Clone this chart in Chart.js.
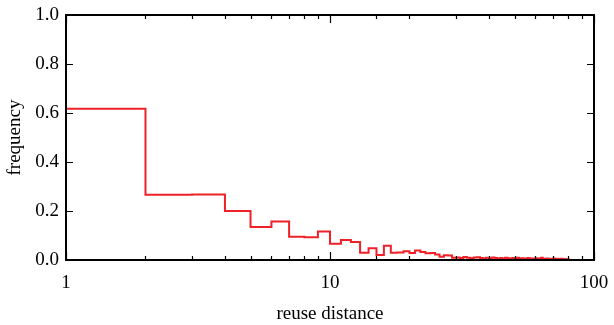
<!DOCTYPE html>
<html>
<head>
<meta charset="utf-8">
<script src="https://cdn.jsdelivr.net/npm/chart.js@4/dist/chart.umd.min.js"></script>
<style>
  html, body { margin: 0; padding: 0; background: #fff; }
</style>
</head>
<body>
<canvas id="chart" width="614" height="325"></canvas>
<script>
// reuse distance (bin start) and frequency
const distances = [
  1, 2, 3, 4, 5, 6, 7, 8, 9, 10,
  11, 12, 13, 14, 15, 16, 17, 18, 19, 20,
  21, 22, 23, 24, 25, 26, 27, 28, 29, 30,
  31, 32, 33, 34, 35, 36, 37, 38, 39, 40,
  41, 42, 43, 44, 45, 46, 47, 48, 49, 50,
  51, 52, 53, 54, 55, 56, 57, 58, 59, 60,
  61, 62, 63, 64, 65, 66, 67, 68, 69, 70,
  71, 72, 73, 74, 75, 76, 77, 78, 79, 80
];
const frequencies = [
  0.617, 0.266, 0.267, 0.200, 0.135, 0.157, 0.095, 0.093, 0.116, 0.066,
  0.082, 0.073, 0.030, 0.048, 0.020, 0.058, 0.030, 0.031, 0.036, 0.029,
  0.039, 0.033, 0.028, 0.029, 0.022, 0.013, 0.019, 0.018, 0.009, 0.010,
  0.008, 0.012, 0.009, 0.007, 0.010, 0.011, 0.008, 0.006, 0.009, 0.007,
  0.010, 0.008, 0.006, 0.008, 0.005, 0.009, 0.007, 0.005, 0.008, 0.006,
  0.009, 0.005, 0.007, 0.006, 0.004, 0.008, 0.005, 0.006, 0.004, 0.007,
  0.004, 0.006, 0.009, 0.005, 0.004, 0.006, 0.003, 0.005, 0.004, 0.006,
  0.003, 0.005, 0.004, 0.003, 0.005, 0.002, 0.004, 0.003, 0.002, 0.003
];
const lastBinEnd = 81;
const startFreq = 1.0;
const xTickLabels = [1, 10, 100];
const yTickLabels = [0, 0.2, 0.4, 0.6, 0.8, 1.0];

const FONT = '"Liberation Serif", "DejaVu Serif", serif';

// step points: start at top of the axis, then each bin, then close the last bin
const points = [{ x: distances[0], y: startFreq }];
distances.forEach((d, i) => points.push({ x: d, y: frequencies[i] }));
points.push({ x: lastBinEnd, y: frequencies[frequencies.length - 1] });

// frame + inward ticks, like the original plot
const framePlugin = {
  id: 'frame',
  afterDatasetsDraw(chart) {
    const { ctx, chartArea: a, scales: { x, y } } = chart;
    ctx.save();
    ctx.strokeStyle = '#000';
    ctx.lineWidth = 1.2;
    x.ticks.forEach(t => {
      const px = Math.round(x.getPixelForValue(t.value)) + 0.5;
      const len = xTickLabels.includes(t.value) ? 8 : 4;
      ctx.beginPath();
      ctx.moveTo(px, a.bottom); ctx.lineTo(px, a.bottom - len);
      ctx.moveTo(px, a.top); ctx.lineTo(px, a.top + len);
      ctx.stroke();
    });
    yTickLabels.forEach(v => {
      const py = Math.round(y.getPixelForValue(v)) + 0.5;
      ctx.beginPath();
      ctx.moveTo(a.left, py); ctx.lineTo(a.left + 7, py);
      ctx.moveTo(a.right, py); ctx.lineTo(a.right - 7, py);
      ctx.stroke();
    });
    ctx.lineWidth = 2;
    ctx.strokeRect(a.left, a.top, a.right - a.left, a.bottom - a.top);
    ctx.restore();
  }
};

new Chart(document.getElementById('chart'), {
  type: 'line',
  data: {
    datasets: [{
      data: points,
      stepped: 'before',
      borderColor: 'rgb(238,32,40)',
      borderWidth: 2,
      pointRadius: 0,
      fill: false,
      tension: 0
    }]
  },
  options: {
    responsive: false,
    animation: false,
    layout: { padding: { top: 15, right: 20, left: 0, bottom: 0 } },
    plugins: { legend: { display: false }, tooltip: { enabled: false } },
    scales: {
      x: {
        type: 'logarithmic',
        min: 1,
        max: 100,
        grid: { display: false, drawTicks: false },
        border: { display: false },
        afterFit: s => { s.height = 65; s.paddingRight = 0; s.paddingLeft = 0; },
        ticks: {
          autoSkip: false,
          maxRotation: 0,
          padding: 12,
          color: '#000',
          font: { family: FONT, size: 19 },
          callback: v => xTickLabels.includes(v) ? String(v) : ''
        },
        title: {
          display: true,
          text: 'reuse distance',
          color: '#000',
          font: { family: FONT, size: 19 },
          padding: { top: 4, bottom: 0 }
        }
      },
      y: {
        min: 0,
        max: 1,
        grid: { display: false, drawTicks: false },
        border: { display: false },
        afterFit: s => { s.width = 66; s.paddingTop = 0; s.paddingBottom = 0; },
        ticks: {
          stepSize: 0.2,
          padding: 7,
          color: '#000',
          font: { family: FONT, size: 19 },
          callback: v => v.toFixed(1)
        },
        title: {
          display: true,
          text: 'frequency',
          color: '#000',
          font: { family: FONT, size: 19 },
          padding: { top: 4, bottom: 0 }
        }
      }
    }
  },
  plugins: [framePlugin]
});
</script>
</body>
</html>
